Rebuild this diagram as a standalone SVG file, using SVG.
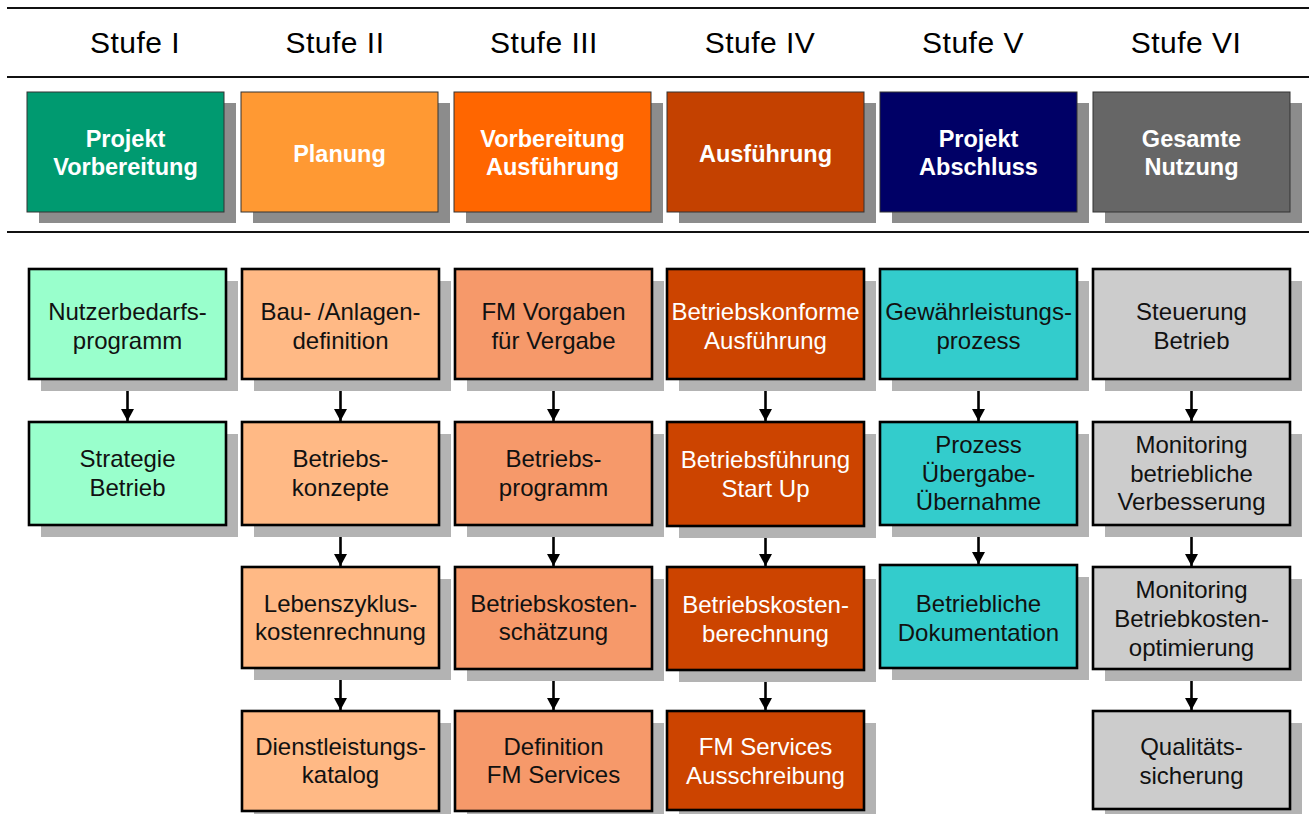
<svg xmlns="http://www.w3.org/2000/svg" width="1309" height="814" viewBox="0 0 1309 814">
<defs>
<style>
.rule{stroke:#111;stroke-width:2.2;fill:none}
.stufe{font-family:"Liberation Sans",Arial,sans-serif;font-size:30px;letter-spacing:0.5px;fill:#000;text-anchor:middle}
.hshadow{fill:#8c8c8c}
.hbox{stroke:#333;stroke-width:1}
.htxt{font-family:"Liberation Sans",Arial,sans-serif;font-size:23.5px;font-weight:bold;fill:#fff;text-anchor:middle}
.shadow{fill:#b3b3b3}
.box{stroke:#000;stroke-width:2.6}
.txt{font-family:"Liberation Sans",Arial,sans-serif;font-size:24px;fill:#111;text-anchor:middle}
.wtxt{fill:#fff}
.c1{fill:#99ffcc}.c2{fill:#ffb985}.c3{fill:#f6996a}.c4{fill:#cc4400}.c5{fill:#33cccc}.c6{fill:#cccccc}
.conn{stroke:#000;stroke-width:2.6;fill:none;marker-end:url(#ah)}
</style>
<marker id="ah" viewBox="0 0 12 13" refX="12" refY="6.5" markerWidth="12" markerHeight="13" markerUnits="userSpaceOnUse" orient="auto">
<path d="M0,0 L12,6.5 L0,13 z" fill="#000"/>
</marker>
</defs>
<rect width="1309" height="814" fill="#fff"/>
<line class="rule" x1="7" y1="8" x2="1309" y2="8"/>
<line class="rule" x1="7" y1="77" x2="1309" y2="77"/>
<line class="rule" x1="7" y1="232" x2="1309" y2="232"/>
<g id="stufen">
<text class="stufe" x="135" y="53">Stufe I</text>
<text class="stufe" x="335" y="53">Stufe II</text>
<text class="stufe" x="544" y="53">Stufe III</text>
<text class="stufe" x="760" y="53">Stufe IV</text>
<text class="stufe" x="973" y="53">Stufe V</text>
<text class="stufe" x="1186" y="53">Stufe VI</text>
</g>
<g id="h1"><rect class="hshadow" x="39" y="103" width="197" height="120"/><rect class="hbox" x="27" y="92" width="197" height="120" fill="#009a70"/><text class="htxt" x="125.5" y="147">Projekt</text><text class="htxt" x="125.5" y="175">Vorbereitung</text></g>
<g id="h2"><rect class="hshadow" x="253" y="103" width="197" height="120"/><rect class="hbox" x="241" y="92" width="197" height="120" fill="#ff9933"/><text class="htxt" x="339.5" y="162">Planung</text></g>
<g id="h3"><rect class="hshadow" x="466" y="103" width="197" height="120"/><rect class="hbox" x="454" y="92" width="197" height="120" fill="#ff6600"/><text class="htxt" x="552.5" y="147">Vorbereitung</text><text class="htxt" x="552.5" y="175">Ausführung</text></g>
<g id="h4"><rect class="hshadow" x="679" y="103" width="197" height="120"/><rect class="hbox" x="667" y="92" width="197" height="120" fill="#c44100"/><text class="htxt" x="765.5" y="162">Ausführung</text></g>
<g id="h5"><rect class="hshadow" x="892" y="103" width="197" height="120"/><rect class="hbox" x="880" y="92" width="197" height="120" fill="#000066"/><text class="htxt" x="978.5" y="147">Projekt</text><text class="htxt" x="978.5" y="175">Abschluss</text></g>
<g id="h6"><rect class="hshadow" x="1105" y="103" width="197" height="120"/><rect class="hbox" x="1093" y="92" width="197" height="120" fill="#666666"/><text class="htxt" x="1191.5" y="147">Gesamte</text><text class="htxt" x="1191.5" y="175">Nutzung</text></g>

<g id="connectors">
<line class="conn" x1="127.5" y1="380" x2="127.5" y2="421"/>
<line class="conn" x1="340.5" y1="380" x2="340.5" y2="421"/>
<line class="conn" x1="340.5" y1="526" x2="340.5" y2="566"/>
<line class="conn" x1="340.5" y1="670" x2="340.5" y2="710"/>
<line class="conn" x1="553.5" y1="380" x2="553.5" y2="421"/>
<line class="conn" x1="553.5" y1="526" x2="553.5" y2="566"/>
<line class="conn" x1="553.5" y1="670" x2="553.5" y2="710"/>
<line class="conn" x1="765.5" y1="380" x2="765.5" y2="421"/>
<line class="conn" x1="765.5" y1="526" x2="765.5" y2="566"/>
<line class="conn" x1="765.5" y1="670" x2="765.5" y2="710"/>
<line class="conn" x1="978.5" y1="380" x2="978.5" y2="421"/>
<line class="conn" x1="978.5" y1="526" x2="978.5" y2="564"/>
<line class="conn" x1="1191.5" y1="380" x2="1191.5" y2="421"/>
<line class="conn" x1="1191.5" y1="526" x2="1191.5" y2="566"/>
<line class="conn" x1="1191.5" y1="670" x2="1191.5" y2="710"/>
</g>

<g id="n1a"><rect class="shadow" x="41" y="281" width="197" height="110"/><rect class="box c1" x="29" y="269" width="197" height="110"/><text class="txt" x="127.5" y="320">Nutzerbedarfs-</text><text class="txt" x="127.5" y="349">programm</text></g>
<g id="n1b"><rect class="shadow" x="41" y="434" width="197" height="103"/><rect class="box c1" x="29" y="422" width="197" height="103"/><text class="txt" x="127.5" y="467">Strategie</text><text class="txt" x="127.5" y="496">Betrieb</text></g>

<g id="n2a"><rect class="shadow" x="254" y="281" width="197" height="110"/><rect class="box c2" x="242" y="269" width="197" height="110"/><text class="txt" x="340.5" y="320">Bau- /Anlagen-</text><text class="txt" x="340.5" y="349">definition</text></g>
<g id="n2b"><rect class="shadow" x="254" y="434" width="197" height="103"/><rect class="box c2" x="242" y="422" width="197" height="103"/><text class="txt" x="340.5" y="467">Betriebs-</text><text class="txt" x="340.5" y="496">konzepte</text></g>
<g id="n2c"><rect class="shadow" x="254" y="579" width="197" height="101"/><rect class="box c2" x="242" y="567" width="197" height="101"/><text class="txt" x="340.5" y="612">Lebenszyklus-</text><text class="txt" x="340.5" y="640">kostenrechnung</text></g>
<g id="n2d"><rect class="shadow" x="254" y="723" width="197" height="100"/><rect class="box c2" x="242" y="711" width="197" height="100"/><text class="txt" x="340.5" y="755">Dienstleistungs-</text><text class="txt" x="340.5" y="783">katalog</text></g>

<g id="n3a"><rect class="shadow" x="467" y="281" width="197" height="110"/><rect class="box c3" x="455" y="269" width="197" height="110"/><text class="txt" x="553.5" y="320">FM Vorgaben</text><text class="txt" x="553.5" y="349">für Vergabe</text></g>
<g id="n3b"><rect class="shadow" x="467" y="434" width="197" height="103"/><rect class="box c3" x="455" y="422" width="197" height="103"/><text class="txt" x="553.5" y="467">Betriebs-</text><text class="txt" x="553.5" y="496">programm</text></g>
<g id="n3c"><rect class="shadow" x="467" y="579" width="197" height="102"/><rect class="box c3" x="455" y="567" width="197" height="102"/><text class="txt" x="553.5" y="612">Betriebskosten-</text><text class="txt" x="553.5" y="640">schätzung</text></g>
<g id="n3d"><rect class="shadow" x="467" y="723" width="197" height="100"/><rect class="box c3" x="455" y="711" width="197" height="100"/><text class="txt" x="553.5" y="755">Definition</text><text class="txt" x="553.5" y="783">FM Services</text></g>

<g id="n4a"><rect class="shadow" x="679" y="281" width="197" height="110"/><rect class="box c4" x="667" y="269" width="197" height="110"/><text class="txt wtxt" x="765.5" y="320">Betriebskonforme</text><text class="txt wtxt" x="765.5" y="349">Ausführung</text></g>
<g id="n4b"><rect class="shadow" x="679" y="434" width="197" height="104"/><rect class="box c4" x="667" y="422" width="197" height="104"/><text class="txt wtxt" x="765.5" y="468">Betriebsführung</text><text class="txt wtxt" x="765.5" y="497">Start Up</text></g>
<g id="n4c"><rect class="shadow" x="679" y="579" width="197" height="103"/><rect class="box c4" x="667" y="567" width="197" height="103"/><text class="txt wtxt" x="765.5" y="613">Betriebskosten-</text><text class="txt wtxt" x="765.5" y="642">berechnung</text></g>
<g id="n4d"><rect class="shadow" x="679" y="723" width="197" height="99"/><rect class="box c4" x="667" y="711" width="197" height="99"/><text class="txt wtxt" x="765.5" y="755">FM Services</text><text class="txt wtxt" x="765.5" y="784">Ausschreibung</text></g>

<g id="n5a"><rect class="shadow" x="892" y="281" width="197" height="110"/><rect class="box c5" x="880" y="269" width="197" height="110"/><text class="txt" x="978.5" y="320">Gewährleistungs-</text><text class="txt" x="978.5" y="349">prozess</text></g>
<g id="n5b"><rect class="shadow" x="892" y="434" width="197" height="103"/><rect class="box c5" x="880" y="422" width="197" height="103"/><text class="txt" x="978.5" y="453">Prozess</text><text class="txt" x="978.5" y="482">Übergabe-</text><text class="txt" x="978.5" y="510">Übernahme</text></g>
<g id="n5c"><rect class="shadow" x="892" y="577" width="197" height="103"/><rect class="box c5" x="880" y="565" width="197" height="103"/><text class="txt" x="978.5" y="612">Betriebliche</text><text class="txt" x="978.5" y="641">Dokumentation</text></g>

<g id="n6a"><rect class="shadow" x="1105" y="281" width="197" height="110"/><rect class="box c6" x="1093" y="269" width="197" height="110"/><text class="txt" x="1191.5" y="320">Steuerung</text><text class="txt" x="1191.5" y="349">Betrieb</text></g>
<g id="n6b"><rect class="shadow" x="1105" y="434" width="197" height="103"/><rect class="box c6" x="1093" y="422" width="197" height="103"/><text class="txt" x="1191.5" y="453">Monitoring</text><text class="txt" x="1191.5" y="482">betriebliche</text><text class="txt" x="1191.5" y="510">Verbesserung</text></g>
<g id="n6c"><rect class="shadow" x="1105" y="579" width="197" height="102"/><rect class="box c6" x="1093" y="567" width="197" height="102"/><text class="txt" x="1191.5" y="598">Monitoring</text><text class="txt" x="1191.5" y="627">Betriebkosten-</text><text class="txt" x="1191.5" y="656">optimierung</text></g>
<g id="n6d"><rect class="shadow" x="1105" y="723" width="197" height="98"/><rect class="box c6" x="1093" y="711" width="197" height="98"/><text class="txt" x="1191.5" y="755">Qualitäts-</text><text class="txt" x="1191.5" y="784">sicherung</text></g>
</svg>
